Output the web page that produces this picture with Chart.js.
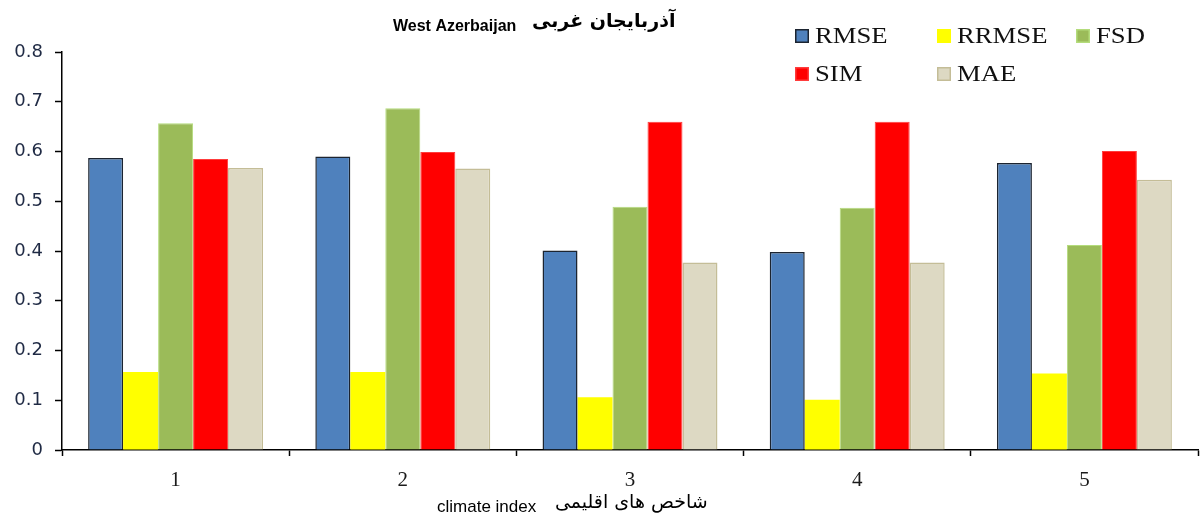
<!DOCTYPE html>
<html>
<head>
<meta charset="utf-8">
<script src="https://cdn.jsdelivr.net/npm/chart.js@4/dist/chart.umd.min.js"></script>
<style>
  html, body { margin: 0; padding: 0; background: #ffffff; }
  #wrap { position: relative; width: 1202px; height: 519px; }
</style>
</head>
<body>
<div id="wrap"><canvas id="chart"></canvas></div>
<script>
// Climate index categories on the x axis
const categories = ['1', '2', '3', '4', '5'];

// Error statistics per climate index
const rmse  = [0.587, 0.590, 0.401, 0.398, 0.577];
const rrmse = [0.157, 0.157, 0.106, 0.101, 0.154];
const fsd   = [0.657, 0.687, 0.489, 0.487, 0.412];
const sim   = [0.585, 0.599, 0.660, 0.660, 0.601];
const mae   = [0.567, 0.566, 0.377, 0.377, 0.543];

const seriesNames = ['RMSE', 'RRMSE', 'FSD', 'SIM', 'MAE'];
const yTickLabels = ['0', '0.1', '0.2', '0.3', '0.4', '0.5', '0.6', '0.7', '0.8'];

const titleEn = 'West Azerbaijan';
const titleFa = 'آذربایجان غربی';
const xTitleEn = 'climate index';
const xTitleFa = 'شاخص های اقلیمی';

const fills   = ['#4f81bd', '#ffff00', '#9bbb59', '#ff0000', '#ddd9c3'];
const borders = ['#1c2430', '#ffff00', '#b4dc7c', '#ff3c3c', '#c4bd97'];
const widths  = [1.5, 0, 1, 1, 1.5];

const seriesValues = [rmse, rrmse, fsd, sim, mae];

const datasets = seriesNames.map((name, i) => ({
  label: name,
  data: seriesValues[i],
  backgroundColor: fills[i],
  borderColor: borders[i],
  borderWidth: widths[i],
  borderSkipped: 'bottom',
  categoryPercentage: 0.77,
  barPercentage: 1.0
}));

// Titles and the two-row legend are drawn on the canvas after the chart
const decorations = {
  id: 'decorations',
  afterDraw(chart) {
    const ctx = chart.ctx;
    ctx.save();

    // chart title (English + Persian)
    ctx.fillStyle = '#000000';
    ctx.textBaseline = 'middle';
    ctx.textAlign = 'left';
    ctx.font = 'bold 16px "Liberation Sans", Arial, sans-serif';
    ctx.fillText(titleEn, 393, 27, 126);
    ctx.font = 'bold 19px "DejaVu Sans", sans-serif';
    ctx.fillText(titleFa, 532, 22, 144);

    // x axis title (English + Persian)
    ctx.font = '17px "Liberation Sans", Arial, sans-serif';
    ctx.fillText(xTitleEn, 437, 507, 101);
    ctx.font = '19px "DejaVu Sans", sans-serif';
    ctx.fillText(xTitleFa, 555, 503, 158);

    // legend in a grid: 3 columns, 2 rows
    const colX = [795, 937, 1076];
    const rowY = [36, 74];
    ctx.font = '23px "Liberation Serif", "Times New Roman", serif';
    chart.data.datasets.forEach((ds, i) => {
      const x = colX[i % 3];
      const y = rowY[Math.floor(i / 3)];
      ctx.fillStyle = ds.backgroundColor;
      ctx.fillRect(x, y - 7, 14, 14);
      if (ds.borderWidth > 0) {
        ctx.strokeStyle = ds.borderColor;
        ctx.lineWidth = 1.5;
        ctx.strokeRect(x + 0.75, y - 6.25, 12.5, 12.5);
      }
      ctx.save();
      ctx.translate(x + 20, y + 1);
      ctx.scale(1.16, 1);
      ctx.fillStyle = '#111111';
      ctx.textBaseline = 'middle';
      ctx.fillText(ds.label, 0, 0);
      ctx.restore();
    });
    ctx.restore();
  }
};

new Chart(document.getElementById('chart'), {
  type: 'bar',
  data: { labels: categories, datasets },
  options: {
    responsive: true,
    maintainAspectRatio: false,
    animation: false,
    layout: { padding: { top: 52, right: 4, bottom: 0, left: 0 } },
    plugins: {
      legend: { display: false },
      title: { display: false },
      tooltip: { enabled: false }
    },
    scales: {
      x: {
        grid: {
          display: true,
          drawOnChartArea: false,
          drawTicks: true,
          tickLength: 6,
          tickWidth: 1.5,
          color: '#000000',
          offset: true
        },
        border: { display: true, color: '#000000', width: 1.5 },
        ticks: {
          padding: 12,
          color: '#1a1a1a',
          font: { family: '"Liberation Serif", "Times New Roman", serif', size: 21 }
        },
        afterFit(scale) { scale.height = 69; }
      },
      y: {
        min: 0,
        max: 0.8,
        grid: {
          display: true,
          drawOnChartArea: false,
          drawTicks: true,
          tickLength: 7,
          tickWidth: 1.5,
          color: '#000000'
        },
        border: { display: true, color: '#000000', width: 1.5 },
        ticks: {
          stepSize: 0.1,
          padding: 12,
          color: '#1f2a44',
          font: { family: '"DejaVu Sans", Verdana, sans-serif', size: 18 },
          callback: (value, index) => yTickLabels[index]
        },
        afterFit(scale) { scale.width = 62; }
      }
    }
  },
  plugins: [decorations]
});
</script>
</body>
</html>
